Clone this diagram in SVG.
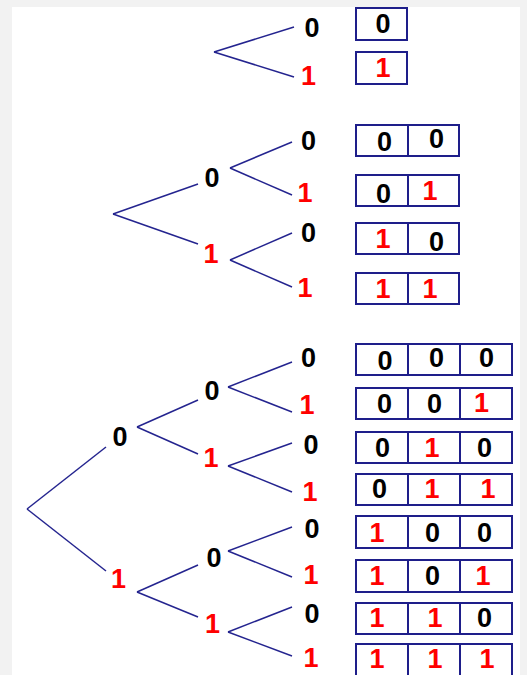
<svg xmlns="http://www.w3.org/2000/svg" width="527" height="675" viewBox="0 0 527 675">
<style>
text{font-family:"Liberation Sans",Arial,sans-serif;font-weight:bold;font-size:27px;text-anchor:middle}
.z{fill:#000}
.o{fill:#ff0000}
.br line{stroke:#24248f;stroke-width:1.5;fill:none}
.bx rect,.bx line{stroke:#1e1e8a;stroke-width:2;fill:none}
</style>
<rect x="0" y="0" width="527" height="675" fill="#f2f2f2"/>
<rect x="12" y="7" width="508" height="668" fill="#ffffff"/>

<g id="connectors" class="br">
<!-- top -->
<line x1="214" y1="52" x2="294" y2="27"/>
<line x1="214" y1="52" x2="294" y2="77"/>
<!-- middle -->
<line x1="113" y1="214" x2="198" y2="184"/>
<line x1="113" y1="214" x2="198" y2="244"/>
<line x1="230" y1="168" x2="292" y2="142"/>
<line x1="230" y1="168" x2="292" y2="195"/>
<line x1="230" y1="260" x2="292" y2="233"/>
<line x1="230" y1="260" x2="292" y2="287"/>
<!-- bottom -->
<line x1="27" y1="509" x2="106" y2="447"/>
<line x1="27" y1="509" x2="106" y2="571"/>
<line x1="137" y1="427" x2="198" y2="400"/>
<line x1="137" y1="427" x2="198" y2="454"/>
<line x1="137" y1="592" x2="198" y2="565"/>
<line x1="137" y1="592" x2="198" y2="617"/>
<line x1="228" y1="387" x2="292" y2="362"/>
<line x1="228" y1="387" x2="292" y2="412"/>
<line x1="228" y1="466" x2="292" y2="443"/>
<line x1="228" y1="466" x2="292" y2="492"/>
<line x1="228" y1="551" x2="292" y2="527"/>
<line x1="228" y1="551" x2="292" y2="577"/>
<line x1="228" y1="632" x2="292" y2="607"/>
<line x1="228" y1="632" x2="292" y2="656"/>
</g>

<!-- top tree nodes -->
<g id="t1-0"><text class="z" x="312" y="37">0</text></g>
<g id="t1-1"><text class="o" x="308.5" y="85">1</text></g>

<!-- middle tree nodes -->
<g id="t2-0"><text class="z" x="212" y="187">0</text></g>
<g id="t2-1"><text class="o" x="211" y="263">1</text></g>
<g id="t2-00"><text class="z" x="308.5" y="150">0</text></g>
<g id="t2-01"><text class="o" x="305" y="202">1</text></g>
<g id="t2-10"><text class="z" x="308.5" y="242">0</text></g>
<g id="t2-11"><text class="o" x="305" y="297">1</text></g>

<!-- bottom tree nodes -->
<g id="t3-0"><text class="z" x="120" y="446">0</text></g>
<g id="t3-1"><text class="o" x="118.5" y="588">1</text></g>
<g id="t3-00"><text class="z" x="212" y="400">0</text></g>
<g id="t3-01"><text class="o" x="211" y="467">1</text></g>
<g id="t3-10"><text class="z" x="214" y="567">0</text></g>
<g id="t3-11"><text class="o" x="212.5" y="633">1</text></g>
<g id="t3-000"><text class="z" x="308.5" y="367">0</text></g>
<g id="t3-001"><text class="o" x="307" y="414">1</text></g>
<g id="t3-010"><text class="z" x="311" y="454">0</text></g>
<g id="t3-011"><text class="o" x="310" y="501">1</text></g>
<g id="t3-100"><text class="z" x="312" y="538">0</text></g>
<g id="t3-101"><text class="o" x="311" y="584">1</text></g>
<g id="t3-110"><text class="z" x="312" y="623">0</text></g>
<g id="t3-111"><text class="o" x="311" y="667">1</text></g>

<!-- one-digit boxes -->
<g id="box-0" class="bx"><rect x="356" y="8" width="51" height="32"/><text class="z" x="383" y="33">0</text></g>
<g id="box-1" class="bx"><rect x="356" y="52" width="51" height="32"/><text class="o" x="383" y="77">1</text></g>

<!-- two-digit boxes -->
<g id="box-00" class="bx"><rect x="356" y="125" width="103" height="31"/><line x1="408" y1="125" x2="408" y2="156"/><text class="z" x="384.5" y="151">0</text><text class="z" x="436.5" y="148">0</text></g>
<g id="box-01" class="bx"><rect x="356" y="175" width="103" height="31"/><line x1="408" y1="175" x2="408" y2="206"/><text class="z" x="383.5" y="203">0</text><text class="o" x="430" y="200">1</text></g>
<g id="box-10" class="bx"><rect x="356" y="223" width="103" height="31"/><line x1="408" y1="223" x2="408" y2="254"/><text class="o" x="383" y="248">1</text><text class="z" x="436.5" y="251">0</text></g>
<g id="box-11" class="bx"><rect x="356" y="273" width="103" height="31"/><line x1="408" y1="273" x2="408" y2="304"/><text class="o" x="383" y="298">1</text><text class="o" x="430" y="298">1</text></g>

<!-- three-digit boxes -->
<g id="box-000" class="bx"><rect x="356" y="344" width="156" height="31"/><line x1="408" y1="344" x2="408" y2="375"/><line x1="460" y1="344" x2="460" y2="375"/><text class="z" x="385" y="370">0</text><text class="z" x="436.5" y="367">0</text><text class="z" x="486.5" y="367">0</text></g>
<g id="box-001" class="bx"><rect x="356" y="388" width="156" height="31"/><line x1="408" y1="388" x2="408" y2="419"/><line x1="460" y1="388" x2="460" y2="419"/><text class="z" x="384.5" y="413">0</text><text class="z" x="434.5" y="413">0</text><text class="o" x="481.5" y="412">1</text></g>
<g id="box-010" class="bx"><rect x="356" y="432" width="156" height="31"/><line x1="408" y1="432" x2="408" y2="463"/><line x1="460" y1="432" x2="460" y2="463"/><text class="z" x="382.5" y="457">0</text><text class="o" x="432" y="457">1</text><text class="z" x="484.5" y="457">0</text></g>
<g id="box-011" class="bx"><rect x="356" y="474" width="156" height="31"/><line x1="408" y1="474" x2="408" y2="505"/><line x1="460" y1="474" x2="460" y2="505"/><text class="z" x="379.5" y="498">0</text><text class="o" x="432" y="498">1</text><text class="o" x="488" y="498">1</text></g>
<g id="box-100" class="bx"><rect x="356" y="516" width="156" height="32"/><line x1="408" y1="516" x2="408" y2="548"/><line x1="460" y1="516" x2="460" y2="548"/><text class="o" x="377" y="542">1</text><text class="z" x="432.5" y="542">0</text><text class="z" x="484.5" y="542">0</text></g>
<g id="box-101" class="bx"><rect x="356" y="560" width="156" height="32"/><line x1="408" y1="560" x2="408" y2="592"/><line x1="460" y1="560" x2="460" y2="592"/><text class="o" x="377" y="585">1</text><text class="z" x="432.5" y="585">0</text><text class="o" x="483" y="585">1</text></g>
<g id="box-110" class="bx"><rect x="356" y="603" width="156" height="31"/><line x1="408" y1="603" x2="408" y2="634"/><line x1="460" y1="603" x2="460" y2="634"/><text class="o" x="377" y="627">1</text><text class="o" x="435" y="627">1</text><text class="z" x="484.5" y="627">0</text></g>
<g id="box-111" class="bx"><rect x="356" y="644" width="156" height="32"/><line x1="408" y1="644" x2="408" y2="676"/><line x1="460" y1="644" x2="460" y2="676"/><text class="o" x="377" y="668">1</text><text class="o" x="435" y="668">1</text><text class="o" x="487" y="668">1</text></g>
</svg>
